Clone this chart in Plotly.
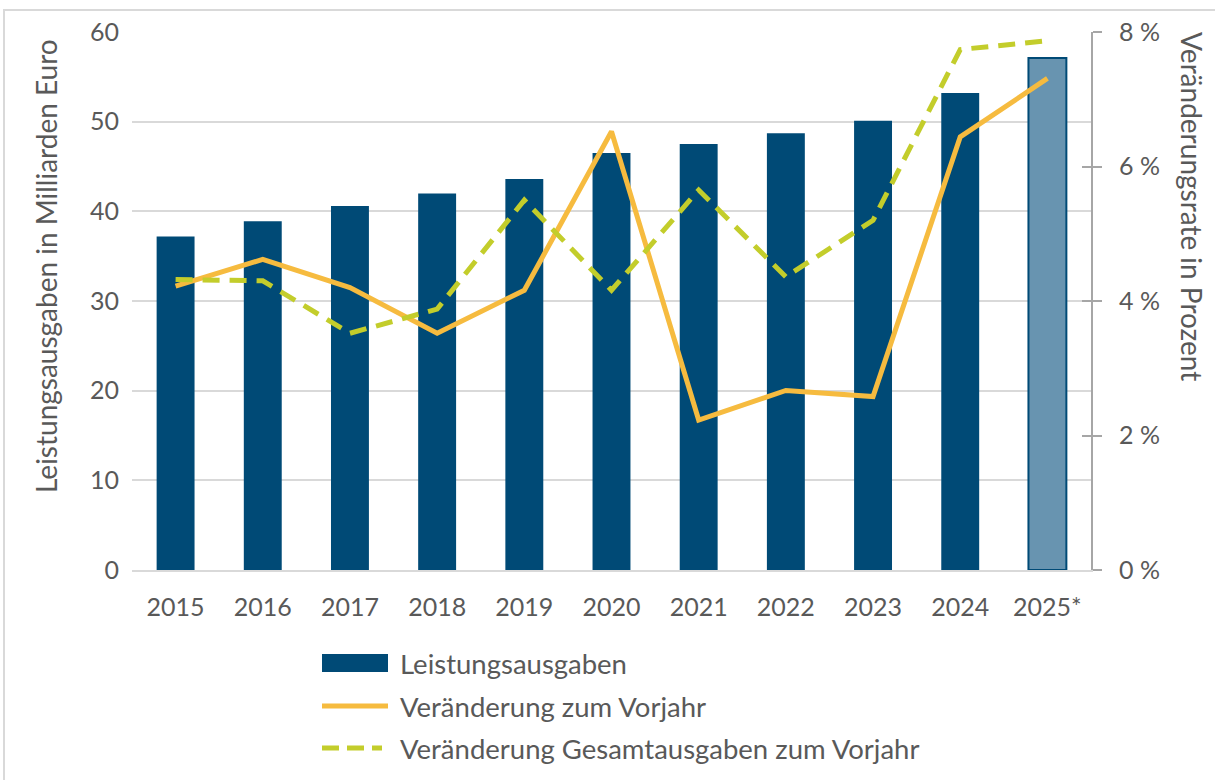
import plotly.graph_objects as go

# ---- data ----
years = ["2015", "2016", "2017", "2018", "2019", "2020", "2021", "2022", "2023", "2024", "2025*"]
leistungsausgaben = [37.2, 38.9, 40.6, 42.0, 43.6, 46.5, 47.5, 48.7, 50.1, 53.2, 57.1]
veraenderung_vorjahr = [4.22, 4.62, 4.20, 3.52, 4.16, 6.52, 2.23, 2.67, 2.58, 6.44, 7.31]
veraenderung_gesamt = [4.32, 4.30, 3.52, 3.88, 5.50, 4.16, 5.65, 4.36, 5.20, 7.74, 7.87]
left_ticks = [0, 10, 20, 30, 40, 50, 60]
right_ticks = [0, 2, 4, 6, 8]
right_ticktext = ["0 %", "2 %", "4 %", "6 %", "8 %"]
series_names = ["Leistungsausgaben", "Veränderung zum Vorjahr", "Veränderung Gesamtausgaben zum Vorjahr"]

# ---- style ----
W, H = 1215, 780
ML, MR, MT, MB = 132, 124, 32, 210
PW, PH = W - ML - MR, H - MT - MB
DARK = "#004A76"
LIGHT = "#6894B0"
ORANGE = "#F6BB3F"
GREEN = "#C3CD2B"
TXT = "#595959"
GRID = "#D9D9D9"
FONT = "Lato"
FS = 25      # tick labels
FT = 28      # axis titles
FL = 27.5    # legend


def px(x):
    return (x - ML) / PW


def py(y):
    return (H - MB - y) / PH


bar_colors = [DARK] * (len(years) - 1) + [LIGHT]
bar_line_w = [0] * (len(years) - 1) + [2]

fig = go.Figure()
fig.add_trace(go.Bar(
    x=years, y=leistungsausgaben, name=series_names[0],
    marker=dict(color=bar_colors, line=dict(color=DARK, width=bar_line_w)),
    showlegend=False,
))
fig.add_trace(go.Scatter(
    x=years, y=veraenderung_vorjahr, name=series_names[1], yaxis="y2",
    mode="lines", line=dict(color=ORANGE, width=5), showlegend=False,
))
fig.add_trace(go.Scatter(
    x=years, y=veraenderung_gesamt, name=series_names[2], yaxis="y2",
    mode="lines", line=dict(color=GREEN, width=5, dash="17px,10px"), showlegend=False,
))
# invisible trace to drive the inside half of the crossing ticks on the right axis
fig.add_trace(go.Scatter(x=years, y=veraenderung_vorjahr, yaxis="y3", mode="lines",
                         line=dict(width=0), hoverinfo="skip", showlegend=False, opacity=0))

fig.update_layout(
    width=W, height=H,
    margin=dict(l=ML, r=MR, t=MT, b=MB),
    paper_bgcolor="white", plot_bgcolor="white",
    font=dict(family=FONT, size=FS, color=TXT),
    bargap=0.565,
    xaxis=dict(
        showgrid=False, showline=True, linecolor=GRID, linewidth=2,
        ticks="", tickfont=dict(size=FS, color=TXT), ticklabelstandoff=14,
    ),
    yaxis=dict(
        range=[0, 60], tickvals=left_ticks, showgrid=True, gridcolor=GRID, gridwidth=2,
        zeroline=False, showline=False, ticks="", tickfont=dict(size=FS, color=TXT),
        ticklabelstandoff=12,
    ),
    yaxis2=dict(
        range=[0, 8], overlaying="y", side="right", tickvals=right_ticks, ticktext=right_ticktext,
        showgrid=False, zeroline=False, showline=True, linecolor="#A6A6A6", linewidth=2,
        ticks="outside", ticklen=9, tickwidth=2, tickcolor="#A6A6A6",
        tickfont=dict(size=FS, color=TXT), ticklabelstandoff=12,
    ),
    yaxis3=dict(
        range=[0, 8], overlaying="y", side="right", tickvals=right_ticks,
        showgrid=False, zeroline=False, showline=False, showticklabels=False,
        ticks="inside", ticklen=9, tickwidth=2, tickcolor="#A6A6A6",
    ),
)

annotations = [
    dict(text="Leistungsausgaben in Milliarden Euro", x=px(46), y=py(266), xref="paper", yref="paper",
         textangle=-90, showarrow=False, xanchor="center", yanchor="middle",
         font=dict(size=FT, color=TXT, family=FONT)),
    dict(text="Veränderungsrate in Prozent", x=px(1192), y=py(206), xref="paper", yref="paper",
         textangle=90, showarrow=False, xanchor="center", yanchor="middle",
         font=dict(size=FT, color=TXT, family=FONT)),
]

shapes = [
    # outer frame
    dict(type="rect", xref="paper", yref="paper", x0=px(4), x1=px(1230), y0=py(795), y1=py(10),
         line=dict(color=GRID, width=2), fillcolor="rgba(0,0,0,0)", layer="below"),
]

# custom legend (wide symbols like the original)
rows = [663, 706, 748]
sx0, sx1, tx = 322, 388, 398
shapes.append(dict(type="rect", xref="paper", yref="paper", x0=px(sx0), x1=px(sx1),
                   y0=py(rows[0] + 9), y1=py(rows[0] - 9), fillcolor=DARK, line=dict(width=0)))
shapes.append(dict(type="line", xref="paper", yref="paper", x0=px(sx0), x1=px(sx1),
                   y0=py(rows[1]), y1=py(rows[1]), line=dict(color=ORANGE, width=5)))
shapes.append(dict(type="line", xref="paper", yref="paper", x0=px(sx0), x1=px(sx1 - 6),
                   y0=py(rows[2]), y1=py(rows[2]), line=dict(color=GREEN, width=5, dash="17px,8px")))
for name, r in zip(series_names, rows):
    annotations.append(dict(text=name, x=px(tx), y=py(r), xref="paper", yref="paper",
                            showarrow=False, xanchor="left", yanchor="middle",
                            font=dict(size=FL, color=TXT, family=FONT)))

fig.update_layout(annotations=annotations, shapes=shapes)
fig.write_html("out.html", config={"displayModeBar": False},
               post_script="document.body.style.margin='0px';")
